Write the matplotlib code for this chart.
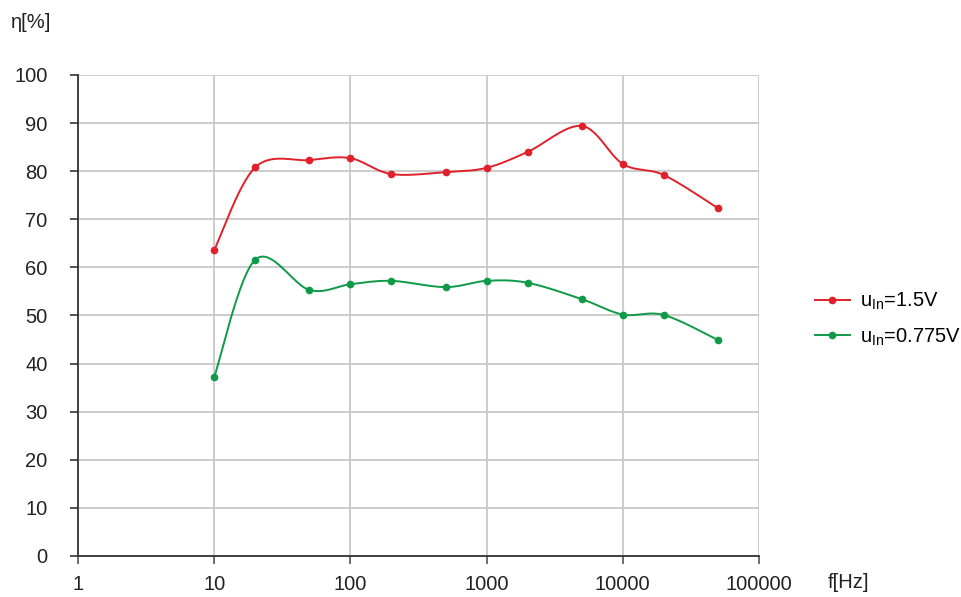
import numpy as np
import matplotlib.pyplot as plt

freq = [10, 20, 50, 100, 200, 500, 1000, 2000, 5000, 10000, 20000, 50000]
eta_15 = [63.6, 80.8, 82.3, 82.7, 79.4, 79.8, 80.7, 84.0, 89.4, 81.5, 79.2, 72.3]
eta_0775 = [37.2, 61.6, 55.3, 56.5, 57.2, 55.9, 57.2, 56.8, 53.4, 50.2, 50.1, 44.9]
x_ticks = [1, 10, 100, 1000, 10000, 100000]
y_ticks = [0, 10, 20, 30, 40, 50, 60, 70, 80, 90, 100]

plt.rcParams['font.family'] = ['Liberation Sans', 'DejaVu Sans']


def smooth(x, y, n=30):
    # Catmull-Rom style smoothing in log-x space (like spreadsheet smoothed lines)
    lx = np.log10(x)
    y = np.asarray(y, dtype=float)
    px = np.concatenate([[lx[0]], lx, [lx[-1]]])
    py = np.concatenate([[y[0]], y, [y[-1]]])
    xs, ys = [], []
    t = np.linspace(0, 1, n)
    for i in range(1, len(px) - 2):
        x0, x1, x2, x3 = px[i - 1:i + 3]
        y0, y1, y2, y3 = py[i - 1:i + 3]
        cx1, cy1 = x1 + (x2 - x0) / 6, y1 + (y2 - y0) / 6
        cx2, cy2 = x2 - (x3 - x1) / 6, y2 - (y3 - y1) / 6
        bx = (1 - t) ** 3 * x1 + 3 * (1 - t) ** 2 * t * cx1 + 3 * (1 - t) * t ** 2 * cx2 + t ** 3 * x2
        by = (1 - t) ** 3 * y1 + 3 * (1 - t) ** 2 * t * cy1 + 3 * (1 - t) * t ** 2 * cy2 + t ** 3 * y2
        xs.append(bx)
        ys.append(by)
    return 10 ** np.concatenate(xs), np.concatenate(ys)


fig = plt.figure(figsize=(9.61, 5.97), dpi=100)
ax = fig.add_axes([0.0812, 0.0687, 0.7086, 0.8057])

series = [(eta_15, '#e0202a', r'u$_{\mathregular{In}}$=1.5V'),
          (eta_0775, '#0f9a48', r'u$_{\mathregular{In}}$=0.775V')]
for vals, col, lab in series:
    sx, sy = smooth(freq, vals)
    ax.plot(sx, sy, color=col, lw=1.4)
    ax.plot(freq, vals, 'o', color=col, ms=4.5)
    ax.plot([], [], '-o', color=col, lw=1.4, ms=4.5, label=lab)

ax.set_xscale('log')
ax.set_xlim(1, 100000)
ax.set_ylim(0, 100)
ax.set_xticks(x_ticks)
ax.set_xticklabels([str(v) for v in x_ticks])
ax.minorticks_off()
ax.set_yticks(y_ticks)
ax.grid(True, color='#c8c8c8', lw=1.3)
ax.set_axisbelow(True)
for s in ['top', 'right']:
    ax.spines[s].set_visible(False)
for s in ['left', 'bottom']:
    ax.spines[s].set_color('#333333')
    ax.spines[s].set_linewidth(1.3)
ax.tick_params(axis='y', length=6, width=1.2, color='#333333', labelsize=14.5, pad=16, labelcolor='#222222')
ax.tick_params(axis='x', length=6, width=1.2, color='#555555', labelsize=14.5, pad=8, labelcolor='#222222')

fig.text(0.011, 0.962, 'η[%]', fontsize=14.5, color='#222222', va='center')
fig.text(0.861, 0.024, 'f[Hz]', fontsize=14.5, color='#222222', va='center')

ax.legend(loc='center left', bbox_to_anchor=(1.055, 0.492), frameon=False, fontsize=14.5,
          handlelength=1.75, handletextpad=0.5, labelspacing=0.7)

fig.savefig('out.png', dpi=100)
